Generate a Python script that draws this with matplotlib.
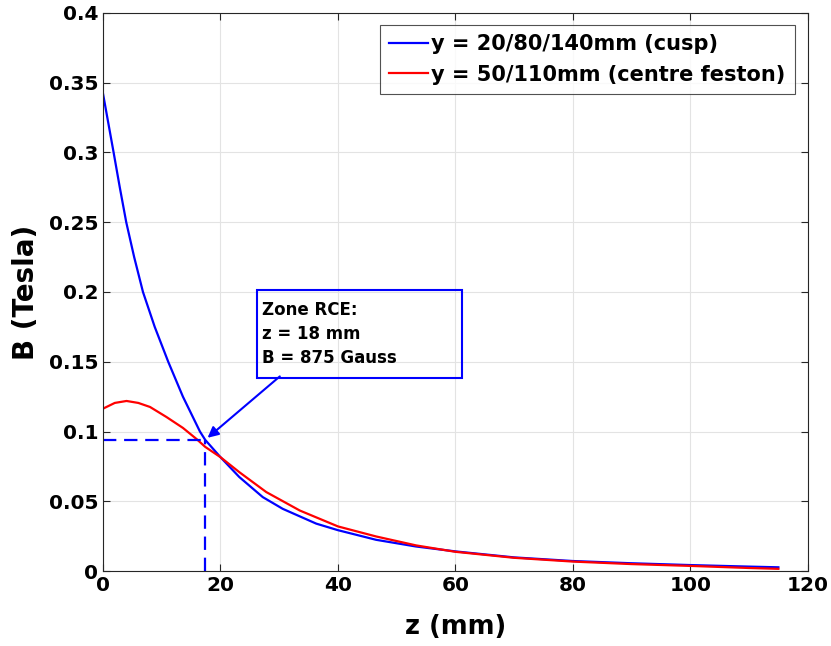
import matplotlib
matplotlib.use("Agg")
import matplotlib.pyplot as plt
from matplotlib.patches import Rectangle

# field along z for the cusp positions (blue) and the festoon centre (red)
z_cusp = [0, 1.8, 2.85, 3.95, 5.3, 6.8, 8.8, 11.1, 13.6, 16.5, 17.4, 20, 23.2, 27.2,
          30.6, 36.3, 40, 46.5, 53.3, 60, 70, 80, 90, 100, 110, 115]
b_cusp = [0.342, 0.300, 0.275, 0.250, 0.225, 0.200, 0.175, 0.150, 0.125, 0.100, 0.094,
          0.0816, 0.0674, 0.053, 0.0446, 0.034, 0.0293, 0.0224, 0.0176, 0.0141, 0.0098,
          0.0072, 0.0056, 0.0043, 0.0032, 0.0027]

z_fest = [0, 2, 4, 6, 8, 10.8, 13.6, 15.9, 17.4, 20, 23.2, 27.8, 33.5, 40, 46.5, 53.3,
          60, 70, 80, 90, 100, 110, 115]
b_fest = [0.1164, 0.1205, 0.1219, 0.1205, 0.1176, 0.1104, 0.1026, 0.0947, 0.089, 0.0816,
          0.0709, 0.0566, 0.0434, 0.032, 0.0248, 0.0184, 0.0138, 0.0095, 0.0068, 0.0050,
          0.0037, 0.0022, 0.0016]

z_rce = 17.4
b_rce = 0.094

x_ticks = [0, 20, 40, 60, 80, 100, 120]
y_ticks = [0, 0.05, 0.1, 0.15, 0.2, 0.25, 0.3, 0.35, 0.4]

plt.rcParams['font.family'] = ['DejaVu Sans']
plt.rcParams['font.weight'] = 'bold'

fig = plt.figure(figsize=(8.31, 6.46), dpi=100)
ax = fig.add_axes([0.124, 0.116, 0.848, 0.864])

ax.plot(z_cusp, b_cusp, color='#0000ff', lw=1.6, label='y = 20/80/140mm (cusp)')
ax.plot(z_fest, b_fest, color='#ff0000', lw=1.6, label='y = 50/110mm (centre feston)')

# dashed guides to the ECR point
ax.plot([0, z_rce], [b_rce, b_rce], color='#0000ff', lw=1.6, ls=(0, (6, 3.5)))
ax.plot([z_rce, z_rce], [0, b_rce], color='#0000ff', lw=1.6, ls=(0, (6, 3.5)))

# text box + arrow
ax.add_patch(Rectangle((26.2, 0.1385), 34.9, 0.063, fill=False, edgecolor='#0000ff', lw=1.5, zorder=5))
ax.text(27.1, 0.1700, 'Zone RCE:\nz = 18 mm\nB = 875 Gauss', fontsize=12, fontweight='bold',
        va='center', ha='left', linespacing=1.45, zorder=6)
ax.annotate('', xy=(17.8, 0.0955), xytext=(30.1, 0.1395),
            arrowprops=dict(arrowstyle='-|>', color='#0000ff', lw=1.5, mutation_scale=16,
                            shrinkA=0, shrinkB=0))

ax.set_xlim(0, 120)
ax.set_ylim(0, 0.4)
ax.set_xticks(x_ticks)
ax.set_yticks(y_ticks)
ax.set_yticklabels(['%g' % v for v in y_ticks])
ax.tick_params(direction='in', top=True, right=True, labelsize=14.5, length=5,
               color='#262626', width=0.8)
for lbl in ax.get_xticklabels() + ax.get_yticklabels():
    lbl.set_fontweight('bold')
for s in ax.spines.values():
    s.set_color('#262626')
    s.set_linewidth(0.8)
ax.grid(True, color='#e3e3e3', lw=0.8)
ax.set_axisbelow(True)

ax.set_xlabel('z (mm)', fontsize=18.5, fontweight='bold', labelpad=14)
ax.set_ylabel('B (Tesla)', fontsize=20, fontweight='bold', labelpad=6)

leg = ax.legend(loc='upper right', bbox_to_anchor=(0.9816, 0.9785), fontsize=15,
                frameon=True, fancybox=False, edgecolor='#262626', handlelength=1.85,
                handletextpad=0.15, borderpad=0.45, labelspacing=0.5, borderaxespad=0)
leg.get_frame().set_linewidth(0.8)
for t in leg.get_texts():
    t.set_fontweight('bold')

fig.savefig('out.png', dpi=100)
